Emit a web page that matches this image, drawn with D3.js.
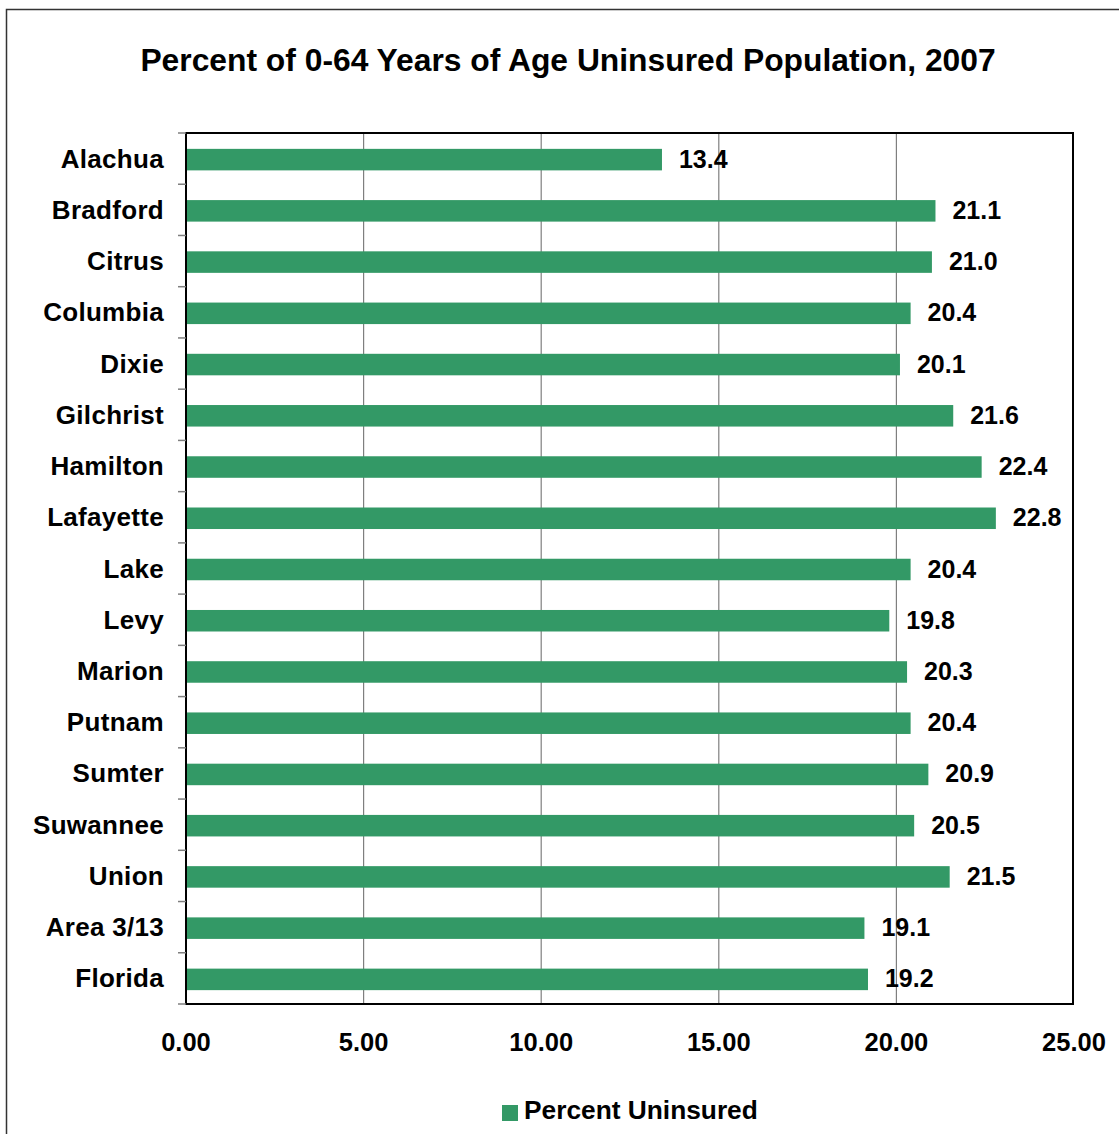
<!DOCTYPE html>
<html>
<head>
<meta charset="utf-8">
<script src="https://cdn.jsdelivr.net/npm/d3@7"></script>
<style>
  html, body { margin: 0; padding: 0; background: #fff; }
  svg { display: block; font-family: "Liberation Sans", Arial, sans-serif; font-weight: bold; }
</style>
</head>
<body>
<svg id="chart" width="1119" height="1134"></svg>
<script>
// County names, top to bottom
const counties = ["Alachua", "Bradford", "Citrus", "Columbia", "Dixie", "Gilchrist",
  "Hamilton", "Lafayette", "Lake", "Levy", "Marion", "Putnam", "Sumter",
  "Suwannee", "Union", "Area 3/13", "Florida"];
// Percent of residents aged 0-64 without health insurance
const percentUninsured = [13.4, 21.1, 21.0, 20.4, 20.1, 21.6, 22.4, 22.8, 20.4,
  19.8, 20.3, 20.4, 20.9, 20.5, 21.5, 19.1, 19.2];
const xTicks = [0, 5, 10, 15, 20, 25];
const seriesName = "Percent Uninsured";
const chartTitle = "Percent of 0-64 Years of Age Uninsured Population, 2007";

const barColor = "#339966";
const svg = d3.select("#chart");

// Outer chart frame (extends past the right and bottom edges)
svg.append("path")
  .attr("d", "M6.5,1140 V9.5 H1125")
  .attr("fill", "none").attr("stroke", "#333").attr("stroke-width", 1.5);

const plot = { left: 186, right: 1074, top: 133, bottom: 1004 };

const x = d3.scaleLinear().domain([0, 25]).range([plot.left, plot.right]);
const y = d3.scaleBand().domain(counties).range([plot.top, plot.bottom])
  .paddingInner(0.58).paddingOuter(0.29);
const step = y.step();

// Title
svg.append("text")
  .attr("x", 568).attr("y", 71)
  .attr("text-anchor", "middle")
  .attr("font-size", 31.8)
  .text(chartTitle);

// Vertical gridlines
svg.append("g")
  .selectAll("line")
  .data(xTicks.slice(1, -1))
  .join("line")
  .attr("x1", d => x(d)).attr("x2", d => x(d))
  .attr("y1", plot.top).attr("y2", plot.bottom)
  .attr("stroke", "#7f7f7f").attr("stroke-width", 1.2);

// Bars
svg.append("g")
  .selectAll("rect")
  .data(counties)
  .join("rect")
  .attr("x", x(0))
  .attr("y", (d) => y(d) + 1)
  .attr("width", (d, i) => x(percentUninsured[i]) - x(0))
  .attr("height", y.bandwidth())
  .attr("fill", barColor);

// Plot frame
svg.append("rect")
  .attr("x", plot.left).attr("y", plot.top)
  .attr("width", plot.right - 1 - plot.left).attr("height", plot.bottom - plot.top)
  .attr("fill", "none").attr("stroke", "#000").attr("stroke-width", 2);

// Category tick marks on band boundaries
svg.append("g")
  .selectAll("line")
  .data(d3.range(counties.length + 1))
  .join("line")
  .attr("x1", plot.left - 8).attr("x2", plot.left)
  .attr("y1", i => plot.top + i * step).attr("y2", i => plot.top + i * step)
  .attr("stroke", "#7f7f7f").attr("stroke-width", 1.5);

// Category labels
svg.append("g")
  .selectAll("text")
  .data(counties)
  .join("text")
  .attr("x", 164)
  .attr("y", d => y(d) + y.bandwidth() / 2 + 9)
  .attr("text-anchor", "end")
  .attr("font-size", 26)
  .attr("letter-spacing", 0.3)
  .text(d => d);

// Value labels
svg.append("g")
  .selectAll("text")
  .data(counties)
  .join("text")
  .attr("x", (d, i) => x(percentUninsured[i]) + 17)
  .attr("y", d => y(d) + y.bandwidth() / 2 + 9)
  .attr("font-size", 25)
  .text((d, i) => percentUninsured[i].toFixed(1));

// X axis labels
svg.append("g")
  .selectAll("text")
  .data(xTicks)
  .join("text")
  .attr("x", d => x(d))
  .attr("y", 1051)
  .attr("text-anchor", "middle")
  .attr("font-size", 25.5)
  .text(d => d.toFixed(2));

// Legend
const legend = svg.append("g").attr("transform", "translate(502,1105)");
legend.append("rect").attr("width", 16).attr("height", 16).attr("fill", barColor);
legend.append("text").attr("x", 22).attr("y", 14).attr("font-size", 26.3).text(seriesName);
</script>
</body>
</html>
